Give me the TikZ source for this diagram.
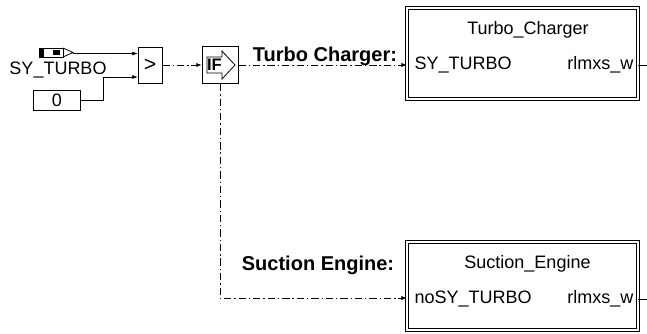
\documentclass[tikz,border=0pt]{standalone}
\usepackage{fontspec}
\setmainfont{Liberation Sans}
\usepackage{tikz}
\usetikzlibrary{arrows.meta,positioning}

\begin{document}
\begin{tikzpicture}[
          x=0.75pt, y=-0.75pt,
          sig/.style={-{Latex[length=4pt,width=3pt]}},
          dd/.style={dash pattern=on 5.5pt off 2.2pt on 1pt off 2.2pt},
          blk/.style={draw, line width=0.6pt, inner sep=0pt},
          sub/.style={draw, double, line width=0.6pt, double distance=1.4pt,
                      minimum width=173pt, inner sep=0pt},
          txt/.style={font=\fontsize{13.5}{15}\selectfont},
          cond/.style={font=\fontsize{15}{16}\selectfont\bfseries}
      ]
        \useasboundingbox (0,0) rectangle (647,333);

        % Input SY_TURBO
        \draw[line width=0.6pt] (39,48) rectangle (63,57);
        \fill (39,48) rectangle (44,57);
        \fill (53,50) rectangle (60,55);
        \draw[line width=0.6pt] (63,48) -- (73,52.5) -- (63,57);
        \coordinate (tip) at (73,53.5);
        \node[txt] (synam) at (58,70) {SY\_TURBO};

        % Constant
        \node[blk, txt, minimum width=35pt, minimum height=15pt] (zero) at (57,100) {0};
        \coordinate (jn) at (103,77);

        % Relational operator
        \node[blk, minimum width=18pt, minimum height=27pt,
              font=\fontsize{16}{16}\selectfont] (cmp) at (150,65) {>};

        \draw[sig] (tip) -- (tip -| cmp.west);
        \draw[sig] (zero.east) -| (jn) -- (jn -| cmp.west);

        % If block
        \node[blk, minimum width=27pt, minimum height=28pt] (ifb) at (220,65) {};
        \draw[line width=0.6pt] (207,57) -- (222,57) -- (222,51) -- (235,65)
              -- (222,79) -- (222,73) -- (207,73) -- cycle;
        \node[font=\fontsize{12.5}{13}\selectfont\bfseries, inner sep=0pt] (iftxt) at (214.5,65) {IF};

        \draw[sig, dd] (cmp.east) -- (ifb.west);

        % Subsystems
        \node[sub, minimum height=68pt] (turbo) at (522.5,53.5) {};
        \node[txt] (turbot) at (528,30) {Turbo\_Charger};
        \node[txt, anchor=west] (turboin) at (410,65) {SY\_TURBO};
        \node[txt, anchor=east] (turboout) at (638,65) {rlmxs\_w};

        \node[sub, minimum height=66pt] (suct) at (522.5,286) {};
        \node[txt] (suctt) at (527.5,264) {Suction\_Engine};
        \node[txt, anchor=west] (suctin) at (410,299) {noSY\_TURBO};
        \node[txt, anchor=east] (suctout) at (638,299) {rlmxs\_w};

        \coordinate (tend) at (647,65);
        \coordinate (send) at (647,299);
        \coordinate (bend) at (220,298);
        \draw (turbo.east |- tend) -- (tend);
        \draw (suct.east |- send) -- (send);

        % Branches
        \draw[sig, dd] (ifb.east) -- (ifb.east -| turbo.west);
        \draw[sig, dd] (ifb.south) -- (bend) -- (bend -| suct.west);
        \node[cond] (tclab) at (325,56) {Turbo Charger:};
        \node[cond] (selab) at (318,265) {Suction Engine:};
      \end{tikzpicture}
\end{document}
